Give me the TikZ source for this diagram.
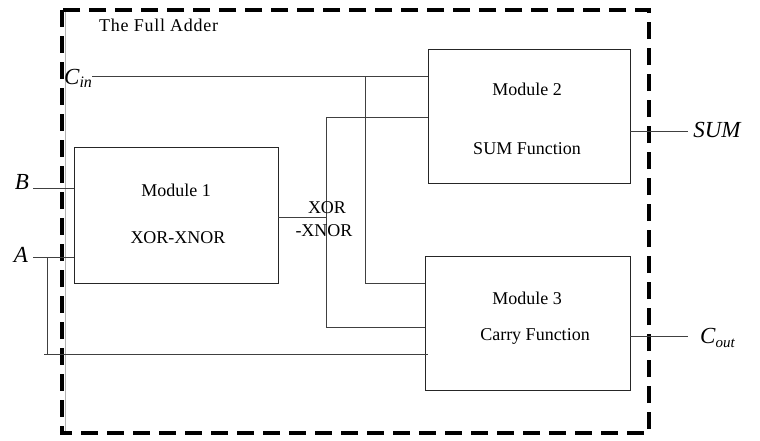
\documentclass[tikz,border=0pt]{standalone}
\usepackage{fontspec}
\setmainfont{Liberation Serif}
\begin{document}
\begin{tikzpicture}[x=1pt,y=-1pt,
  wire/.style={draw=black!75,line width=0.8pt},
  modbox/.style={draw=black!85,line width=0.9pt,inner sep=0pt},
  modtext/.style={inner sep=0pt,font=\fontsize{18}{20}\selectfont},
  iolabel/.style={inner sep=0pt,font=\fontsize{23}{25}\selectfont\itshape},
  frame/.style={draw=black,line width=4.5pt,dash pattern=on 17pt off 9pt}]
\useasboundingbox (0,0) rectangle (760,440);
% frame
\draw[black!30,line width=0.6pt] (65,12) -- (65,432);
\draw[frame] (62,10) rectangle (649,433);
\node[modtext,anchor=west] (title) at (99,25) {\addfontfeature{LetterSpace=4}The Full Adder};
% modules
\node[modbox,minimum width=204pt,minimum height=136pt] (m1) at (176,215) {};
\node[modbox,minimum width=202pt,minimum height=134pt] (m2) at (529,116) {};
\node[modbox,minimum width=205pt,minimum height=134pt] (m3) at (527.5,323) {};
\node[modtext] (m1a) at (176,190) {Module 1};
\node[modtext] (m1b) at (178,238) {XOR-XNOR};
\node[modtext] (m2a) at (527,89) {Module 2};
\node[modtext] (m2b) at (527,149) {SUM Function};
\node[modtext] (m3a) at (527,298) {Module 3};
\node[modtext] (m3b) at (535,336) {Carry Function};
% coordinates
\coordinate (cin) at (92,76);
\coordinate (cj) at (365,76);
\coordinate (cm3) at (365,283);
\coordinate (xo) at (326,217);
\coordinate (xt) at (326,117);
\coordinate (xb) at (326,327);
\coordinate (bin) at (33,188);
\coordinate (ain) at (33,257);
\coordinate (aj) at (47,257);
\coordinate (ab) at (47,354);
\coordinate (abl) at (44,354);
\coordinate (abr) at (428,354);
\coordinate (sumend) at (688,131);
\coordinate (coutend) at (688,336);
% wires
\draw[wire] (cin) -- (cin -| m2.west);
\draw[wire] (cj) -- (cm3) -- (cm3 -| m3.west);
\draw[wire] (xo -| m1.east) -- (xo);
\draw[wire] (xt -| m2.west) -- (xt) -- (xb) -- (xb -| m3.west);
\draw[wire] (bin) -- (bin -| m1.west);
\draw[wire] (ain) -- (ain -| m1.west);
\draw[wire] (aj) -- (ab);
\draw[wire] (abl) -- (abr);
\draw[wire] (sumend -| m2.east) -- (sumend);
\draw[wire] (coutend -| m3.east) -- (coutend);
% labels
\node[modtext] (xorl) at (327,208) {XOR};
\node[modtext] (xnorl) at (324,231) {-XNOR};
\node[iolabel,anchor=west] (cinl) at (64,78) {C\raisebox{-0.3ex}{\fontsize{16}{16}\selectfont in}};
\node[iolabel] (bl) at (22,182) {B};
\node[iolabel] (al) at (21,255) {A};
\node[iolabel] (suml) at (717,130) {SUM};
\node[iolabel,anchor=west] (coutl) at (700,338) {C\raisebox{-0.3ex}{\fontsize{15}{15}\selectfont out}};
\end{tikzpicture}
\end{document}
